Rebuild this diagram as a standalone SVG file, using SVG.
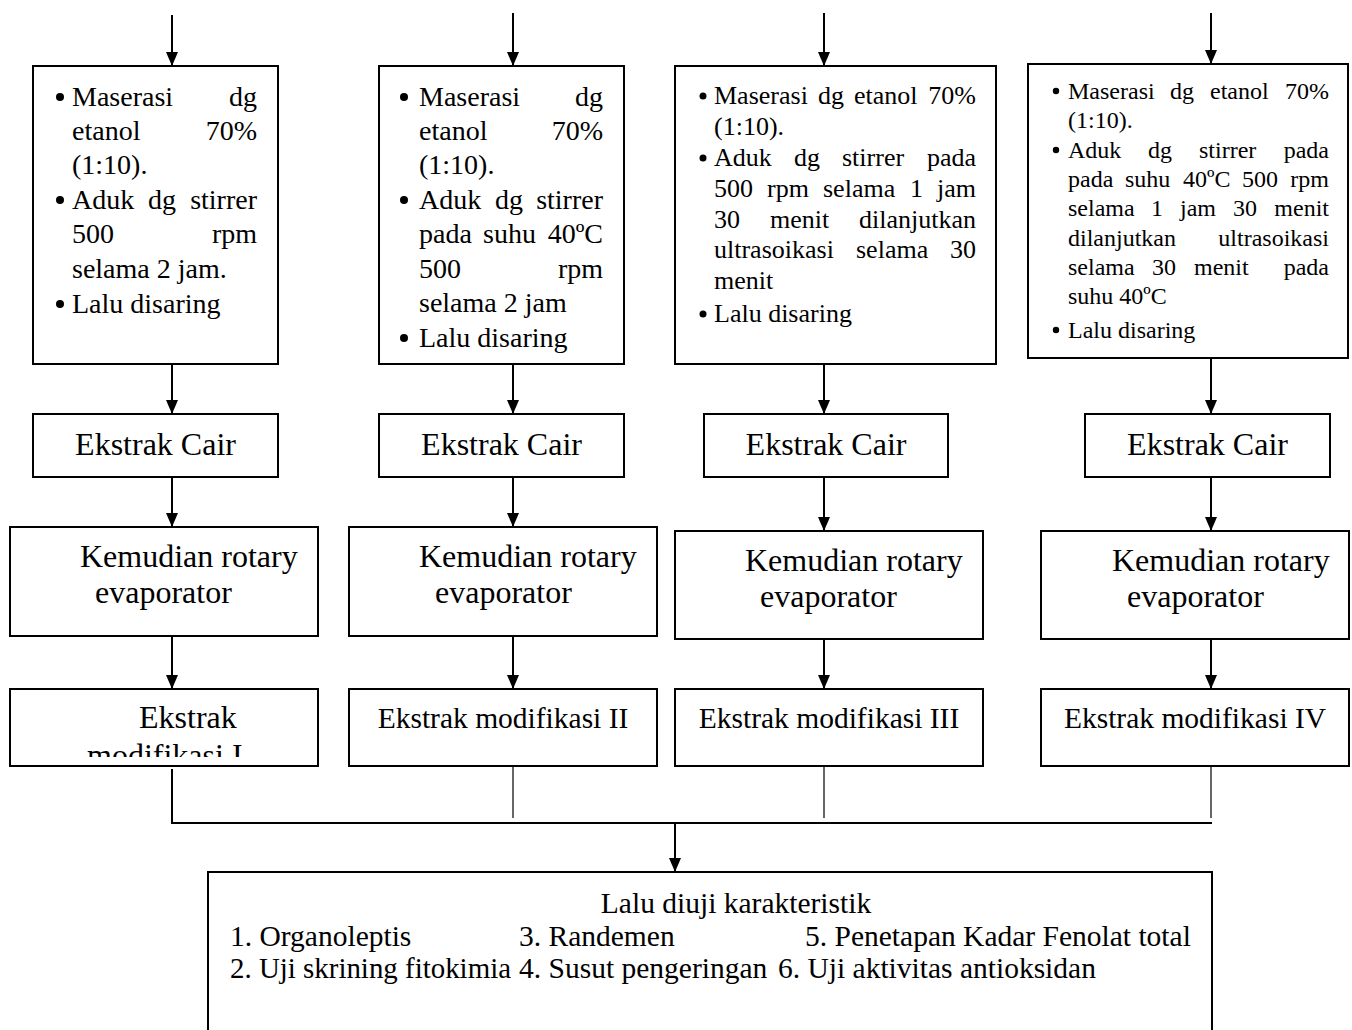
<svg xmlns="http://www.w3.org/2000/svg" width="1352" height="1030" viewBox="0 0 1352 1030">
<style>
text{font-family:"Liberation Serif","Times New Roman",serif;fill:#000}
.box{fill:#fff;stroke:#000;stroke-width:2}
.c{stroke:#000;stroke-width:2;fill:none}
.t{stroke:#000;stroke-width:1.2;fill:none}
.f28{font-size:28px}.f26{font-size:26px}.f24{font-size:24px}.f32{font-size:32px}.f30{font-size:29.5px}
.e{text-anchor:end}.m{text-anchor:middle}
</style>
<defs>
<marker id="ah" markerUnits="userSpaceOnUse" markerWidth="14" markerHeight="12" refX="14" refY="6" orient="auto">
<path d="M0,0 L14,6 L0,12 z" fill="#000"/>
</marker>
<clipPath id="clip1"><rect x="10" y="689" width="308" height="68"/></clipPath>
</defs>

<g id="connectors">
<line class="c" x1="172" y1="15" x2="172" y2="66" marker-end="url(#ah)"/>
<line class="c" x1="513" y1="13" x2="513" y2="66" marker-end="url(#ah)"/>
<line class="c" x1="824" y1="13" x2="824" y2="66" marker-end="url(#ah)"/>
<line class="c" x1="1211" y1="13" x2="1211" y2="64" marker-end="url(#ah)"/>
<line class="c" x1="172" y1="364" x2="172" y2="414" marker-end="url(#ah)"/>
<line class="c" x1="513" y1="364" x2="513" y2="414" marker-end="url(#ah)"/>
<line class="c" x1="824" y1="364" x2="824" y2="414" marker-end="url(#ah)"/>
<line class="c" x1="1211" y1="358" x2="1211" y2="414" marker-end="url(#ah)"/>
<line class="c" x1="172" y1="477" x2="172" y2="527" marker-end="url(#ah)"/>
<line class="c" x1="513" y1="477" x2="513" y2="527" marker-end="url(#ah)"/>
<line class="c" x1="824" y1="477" x2="824" y2="531" marker-end="url(#ah)"/>
<line class="c" x1="1211" y1="477" x2="1211" y2="531" marker-end="url(#ah)"/>
<line class="c" x1="172" y1="636" x2="172" y2="689" marker-end="url(#ah)"/>
<line class="c" x1="513" y1="636" x2="513" y2="689" marker-end="url(#ah)"/>
<line class="c" x1="824" y1="639" x2="824" y2="689" marker-end="url(#ah)"/>
<line class="c" x1="1211" y1="639" x2="1211" y2="689" marker-end="url(#ah)"/>
<polyline class="c" points="172,769 172,823 1212,823"/>
<line class="t" x1="513" y1="766" x2="513" y2="818"/>
<line class="t" x1="824" y1="766" x2="824" y2="818"/>
<line class="t" x1="1211" y1="766" x2="1211" y2="818"/>
<line class="c" x1="675" y1="823" x2="675" y2="872" marker-end="url(#ah)"/>
</g>

<g id="maserasi1">
<rect class="box" x="33" y="66" width="245" height="298"/>
<g class="f28">
<circle cx="60" cy="97" r="4"/>
<text x="72" y="106">Maserasi</text><text class="e" x="257" y="106">dg</text>
<text x="72" y="140">etanol</text><text class="e" x="257" y="140">70%</text>
<text x="72" y="174">(1:10).</text>
<circle cx="60" cy="200" r="4"/>
<text x="72" y="209">Aduk</text><text x="148" y="209">dg</text><text class="e" x="257" y="209">stirrer</text>
<text x="72" y="243">500</text><text class="e" x="257" y="243">rpm</text>
<text x="72" y="278">selama 2 jam.</text>
<circle cx="60" cy="304" r="4"/>
<text x="72" y="313">Lalu disaring</text>
</g>
</g>

<g id="maserasi2">
<rect class="box" x="379" y="66" width="245" height="298"/>
<g class="f28">
<circle cx="404" cy="97" r="4"/>
<text x="419" y="106">Maserasi</text><text class="e" x="603" y="106">dg</text>
<text x="419" y="140">etanol</text><text class="e" x="603" y="140">70%</text>
<text x="419" y="174">(1:10).</text>
<circle cx="404" cy="200" r="4"/>
<text x="419" y="209">Aduk</text><text x="495" y="209">dg</text><text class="e" x="603" y="209">stirrer</text>
<text x="419" y="243">pada</text><text x="483" y="243">suhu</text><text class="e" x="603" y="243">40ºC</text>
<text x="419" y="278">500</text><text class="e" x="603" y="278">rpm</text>
<text x="419" y="312">selama 2 jam</text>
<circle cx="404" cy="338" r="4"/>
<text x="419" y="347">Lalu disaring</text>
</g>
</g>

<g id="maserasi3">
<rect class="box" x="675" y="66" width="321" height="298"/>
<g class="f26">
<circle cx="703" cy="96" r="3.5"/>
<text x="714" y="104">Maserasi</text><text x="818" y="104">dg</text><text x="854" y="104">etanol</text><text class="e" x="976" y="104">70%</text>
<text x="714" y="135">(1:10).</text>
<circle cx="703" cy="158" r="3.5"/>
<text x="714" y="166">Aduk</text><text x="794" y="166">dg</text><text x="842" y="166">stirrer</text><text class="e" x="976" y="166">pada</text>
<text x="714" y="197">500</text><text x="767" y="197">rpm</text><text x="823" y="197">selama</text><text x="910" y="197">1</text><text class="e" x="976" y="197">jam</text>
<text x="714" y="228">30</text><text x="770" y="228">menit</text><text class="e" x="976" y="228">dilanjutkan</text>
<text x="714" y="258">ultrasoikasi</text><text x="856" y="258">selama</text><text class="e" x="976" y="258">30</text>
<text x="714" y="289">menit</text>
<circle cx="703" cy="314" r="3.5"/>
<text x="714" y="322">Lalu disaring</text>
</g>
</g>

<g id="maserasi4">
<rect class="box" x="1028" y="64" width="320" height="294"/>
<g class="f24">
<circle cx="1056" cy="91" r="3.2"/>
<text x="1068" y="99">Maserasi</text><text x="1170" y="99">dg</text><text x="1210" y="99">etanol</text><text class="e" x="1329" y="99">70%</text>
<text x="1068" y="128">(1:10).</text>
<circle cx="1056" cy="150" r="3.2"/>
<text x="1068" y="158">Aduk</text><text x="1148" y="158">dg</text><text x="1199" y="158">stirrer</text><text class="e" x="1329" y="158">pada</text>
<text x="1068" y="187">pada</text><text x="1125" y="187">suhu</text><text x="1183" y="187">40ºC</text><text x="1242" y="187">500</text><text class="e" x="1329" y="187">rpm</text>
<text x="1068" y="216">selama</text><text x="1151" y="216">1</text><text x="1180" y="216">jam</text><text x="1233" y="216">30</text><text class="e" x="1329" y="216">menit</text>
<text x="1068" y="246">dilanjutkan</text><text class="e" x="1329" y="246">ultrasoikasi</text>
<text x="1068" y="275">selama</text><text x="1152" y="275">30</text><text x="1194" y="275">menit</text><text class="e" x="1329" y="275">pada</text>
<text x="1068" y="304">suhu 40ºC</text>
<circle cx="1056" cy="330" r="3.2"/>
<text x="1068" y="338">Lalu disaring</text>
</g>
</g>

<g id="cair1"><rect class="box" x="33" y="414" width="245" height="63"/><text class="f32 m" x="155.5" y="455">Ekstrak Cair</text></g>
<g id="cair2"><rect class="box" x="379" y="414" width="245" height="63"/><text class="f32 m" x="501.5" y="455">Ekstrak Cair</text></g>
<g id="cair3"><rect class="box" x="704" y="414" width="244" height="63"/><text class="f32 m" x="826" y="455">Ekstrak Cair</text></g>
<g id="cair4"><rect class="box" x="1085" y="414" width="245" height="63"/><text class="f32 m" x="1207.5" y="455">Ekstrak Cair</text></g>

<g id="rotary1"><rect class="box" x="10" y="527" width="308" height="109"/><text class="f32" x="80" y="567">Kemudian rotary</text><text class="f32" x="95" y="603">evaporator</text></g>
<g id="rotary2"><rect class="box" x="349" y="527" width="308" height="109"/><text class="f32" x="419" y="567">Kemudian rotary</text><text class="f32" x="435" y="603">evaporator</text></g>
<g id="rotary3"><rect class="box" x="675" y="531" width="308" height="108"/><text class="f32" x="745" y="571">Kemudian rotary</text><text class="f32" x="760" y="607">evaporator</text></g>
<g id="rotary4"><rect class="box" x="1041" y="531" width="308" height="108"/><text class="f32" x="1112" y="571">Kemudian rotary</text><text class="f32" x="1127" y="607">evaporator</text></g>

<g id="modifikasi1"><rect class="box" x="10" y="689" width="308" height="77"/>
<g clip-path="url(#clip1)"><text class="f32" x="139" y="728">Ekstrak</text><text class="f32" x="87" y="766">modifikasi I</text></g></g>
<g id="modifikasi2"><rect class="box" x="349" y="689" width="308" height="77"/><text class="f30 m" x="503" y="728">Ekstrak modifikasi II</text></g>
<g id="modifikasi3"><rect class="box" x="675" y="689" width="308" height="77"/><text class="f30 m" x="829" y="728">Ekstrak modifikasi III</text></g>
<g id="modifikasi4"><rect class="box" x="1041" y="689" width="308" height="77"/><text class="f30 m" x="1195" y="728">Ekstrak modifikasi IV</text></g>

<g id="uji">
<rect class="box" x="208" y="872" width="1004" height="180"/>
<g class="f30">
<text class="m" x="736" y="913">Lalu diuji karakteristik</text>
<text x="230" y="946">1. Organoleptis</text><text x="519" y="946">3. Randemen</text><text x="805" y="946">5. Penetapan Kadar Fenolat total</text>
<text x="230" y="978" textLength="281" lengthAdjust="spacingAndGlyphs">2. Uji skrining fitokimia</text><text x="519" y="978">4. Susut pengeringan</text><text x="778" y="978">6. Uji aktivitas antioksidan</text>
</g>
</g>
</svg>
